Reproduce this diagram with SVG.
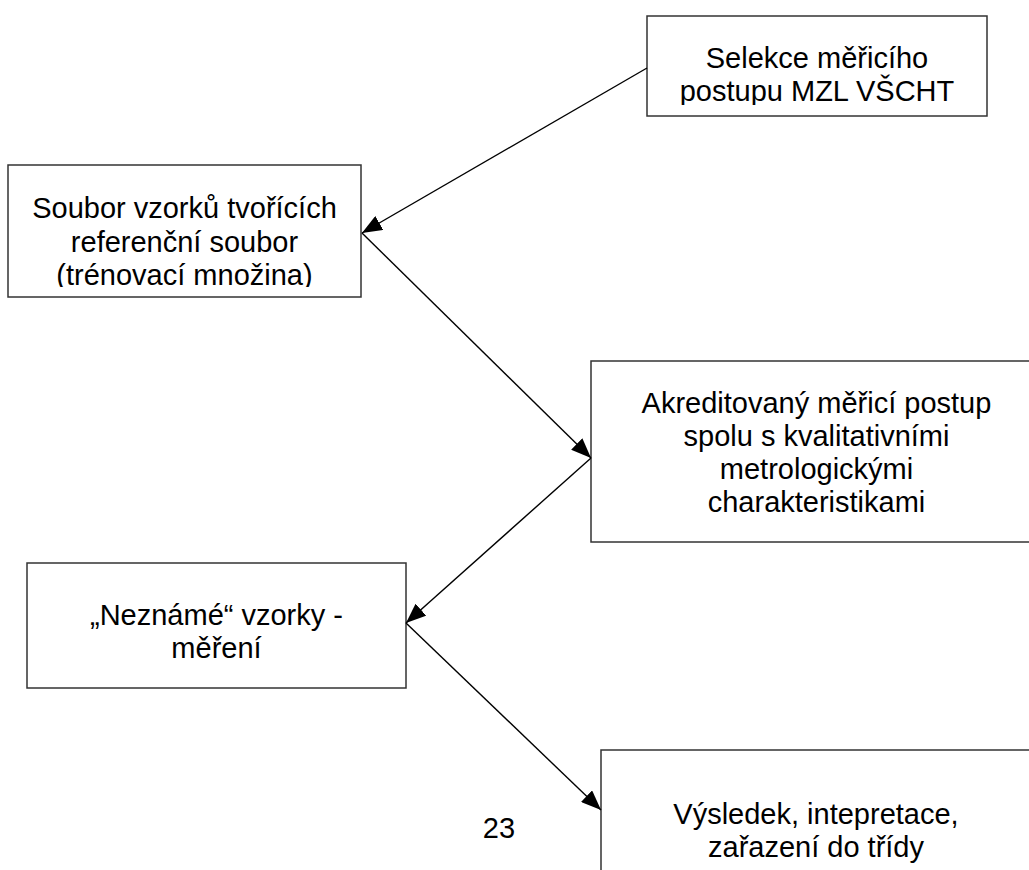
<svg xmlns="http://www.w3.org/2000/svg" width="1029" height="870" viewBox="0 0 1029 870">
<style>
.box{fill:#fff;stroke:#333;stroke-width:1.5}
.t{font-family:"Liberation Sans",Arial,sans-serif;font-size:29px;fill:#000;text-anchor:middle}
.c{stroke:#000;stroke-width:1.4;fill:none;marker-end:url(#ah)}
</style>
<defs>
<marker id="ah" markerWidth="22" markerHeight="16" refX="20" refY="8" orient="auto" markerUnits="userSpaceOnUse">
<path d="M0,0 L20,8 L0,16 Z" fill="#000"/>
</marker>
<clipPath id="c1"><rect x="647" y="16" width="340" height="89"/></clipPath>
<clipPath id="c2"><rect x="8" y="165" width="353" height="122"/></clipPath>
</defs>
<rect width="1029" height="870" fill="#fff"/>
<g id="n1">
<rect class="box" x="647" y="16" width="340" height="100"/>
<g clip-path="url(#c1)">
<text class="t" x="817" y="68">Selekce měřicího</text>
<text class="t" x="817" y="101">postupu MZL VŠCHT</text>
</g>
</g>
<g id="n2">
<rect class="box" x="8" y="165" width="353" height="132"/>
<g clip-path="url(#c2)">
<text class="t" x="184.5" y="218">Soubor vzorků tvořících</text>
<text class="t" x="184.5" y="252">referenční soubor</text>
<text class="t" x="184.5" y="285">(trénovací množina)</text>
</g>
</g>
<g id="n3">
<rect class="box" x="591" y="361" width="452" height="181"/>
<text class="t" x="816.5" y="413">Akreditovaný měřicí postup</text>
<text class="t" x="816.5" y="446">spolu s kvalitativními</text>
<text class="t" x="816.5" y="479">metrologickými</text>
<text class="t" x="816.5" y="512">charakteristikami</text>
</g>
<g id="n4">
<rect class="box" x="27" y="563" width="379" height="125"/>
<text class="t" x="216.5" y="625">„Neznámé“ vzorky -</text>
<text class="t" x="216.5" y="658">měření</text>
</g>
<g id="n5">
<rect class="box" x="601" y="750" width="440" height="140"/>
<text class="t" x="816" y="824">Výsledek, intepretace,</text>
<text class="t" x="816" y="857">zařazení do třídy</text>
</g>
<text id="pagenum" class="t" x="499" y="838">23</text>
<g id="connectors">
<line class="c" x1="647" y1="68" x2="362" y2="233"/>
<line class="c" x1="362" y1="233" x2="591" y2="458"/>
<line class="c" x1="591" y1="458" x2="406" y2="623"/>
<line class="c" x1="406" y1="623" x2="601" y2="810"/>
</g>
</svg>
